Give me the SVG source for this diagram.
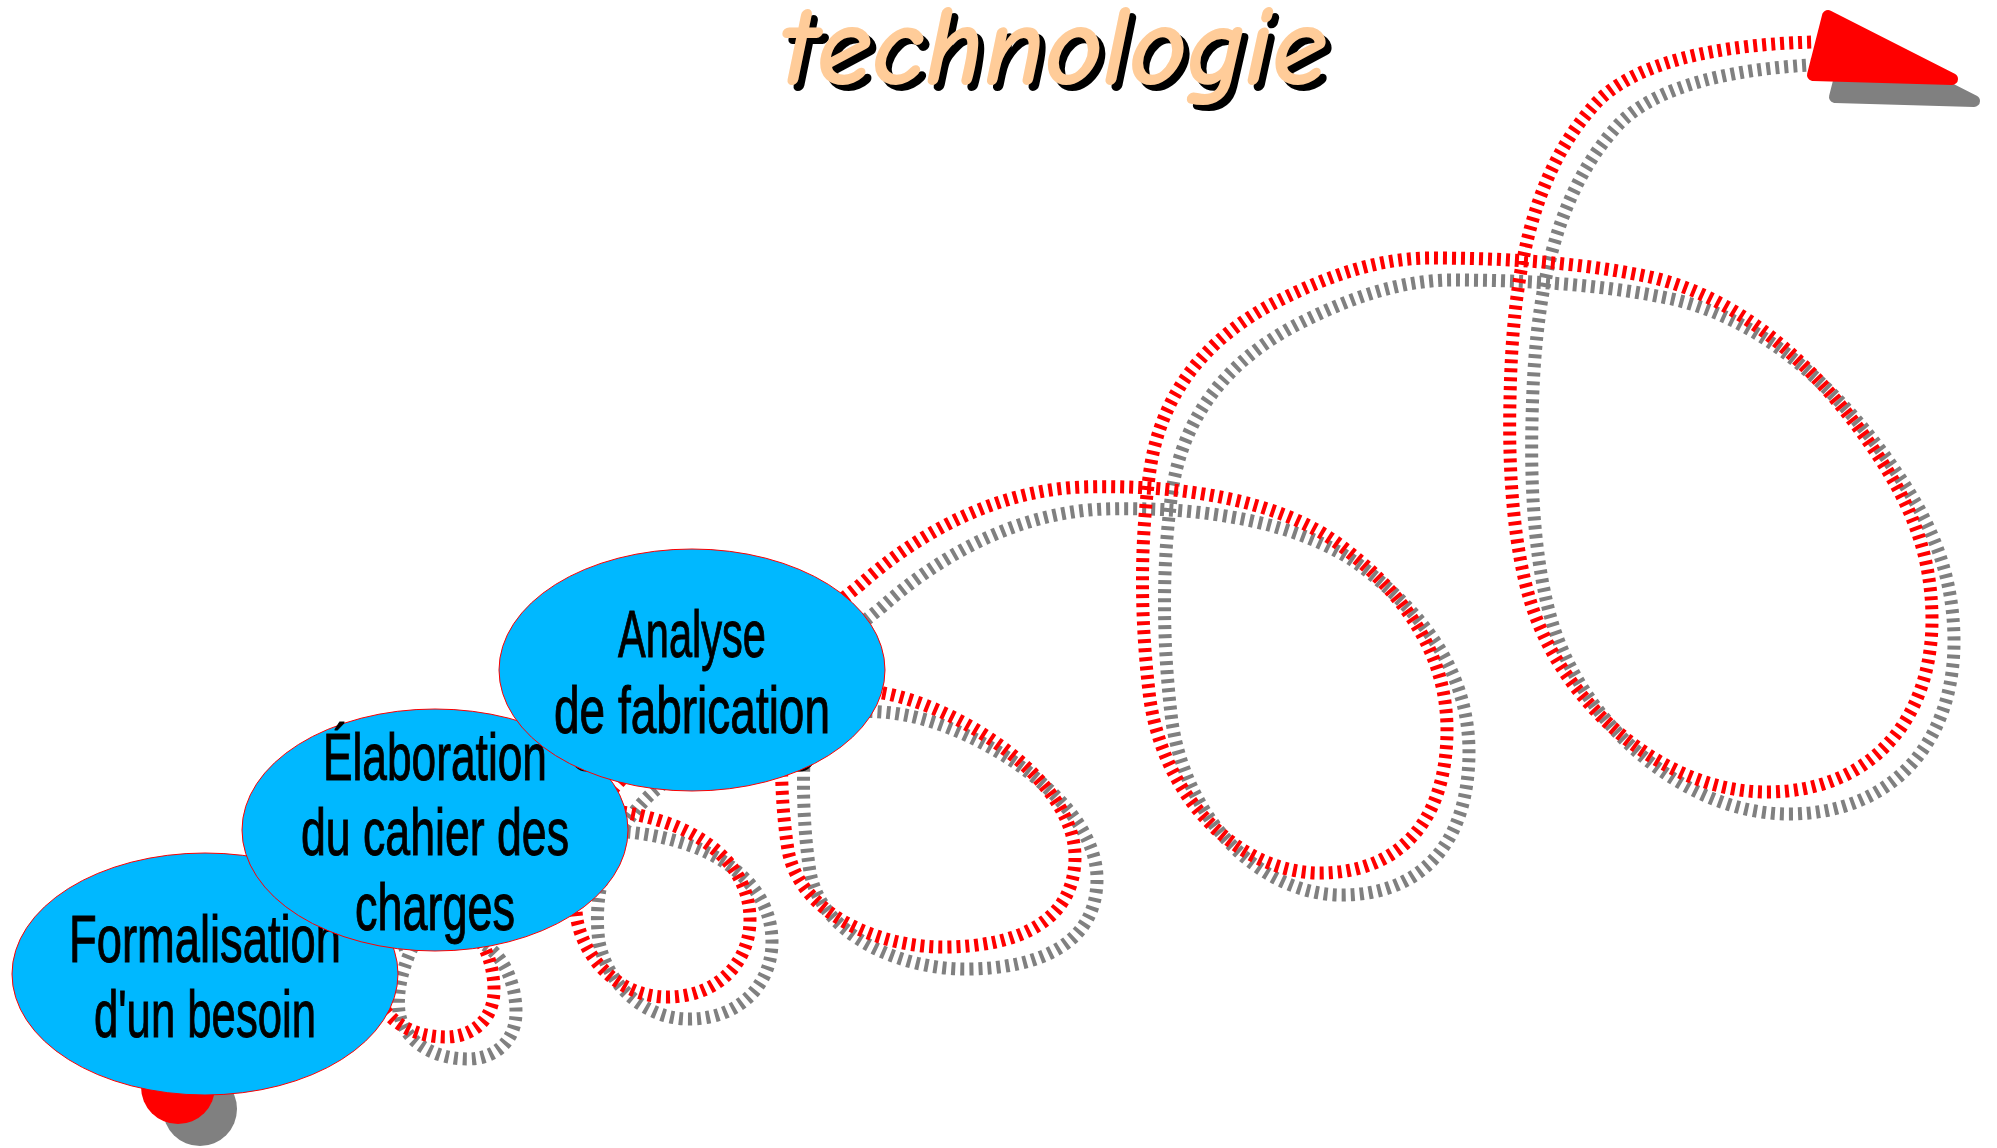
<svg xmlns="http://www.w3.org/2000/svg" xmlns:xlink="http://www.w3.org/1999/xlink" width="1997" height="1148" viewBox="0 0 1997 1148">
<defs>
<style>
.title { font-family: "Comic Sans MS", "Comic Neue", "DejaVu Sans", sans-serif; font-style: italic; font-weight: bold; font-size: 116px; }
.lbl { font-family: "Agency FB", "Liberation Sans", Arial, sans-serif; font-size: 66px; fill: #000000; stroke: #000000; stroke-width: 1; text-anchor: middle; }
.node { fill: #00B8FF; stroke: #FF0000; stroke-width: 1; }
.trail { fill: none; stroke-width: 13; stroke-dasharray: 4 5; }
.red { stroke: #FF0000; }
.gray { stroke: #808080; }
</style>
<path id="trailPath" d="M 178,1087 C 250,990 330,915 435,915 C 475,915 494,955 494,990 C 494,1020 472,1037 446,1037 C 412,1037 382,1020 377,990 C 372,950 400,885 460,848 C 520,810 590,797 667,823 C 710,838 750,870 750,920 C 750,960 720,997 667,997 C 620,997 585,960 577,920 C 570,870 585,800 650,755 C 715,712 803,678 883,693 C 960,707 1075,780 1075,857 C 1075,920 1020,947 943,947 C 880,947 800,915 788,850 C 780,800 775,700 800,650 C 815,620 835,605 860,585 C 910,540 990,490 1083,487 C 1180,484 1280,500 1340,545 C 1400,590 1447,650 1447,730 C 1447,820 1400,873 1320,873 C 1240,873 1165,800 1150,700 C 1140,620 1140,540 1150,470 C 1160,400 1200,340 1280,300 C 1330,275 1380,258 1430,258 C 1500,258 1580,262 1650,277 C 1730,295 1800,350 1860,430 C 1900,485 1932,540 1932,620 C 1932,720 1870,792 1767,792 C 1660,792 1560,700 1530,600 C 1515,550 1508,480 1510,400 C 1512,280 1530,180 1590,110 C 1620,72 1690,45 1815,42"/>
</defs>

<g id="title">
<text class="title" x="785" y="90" fill="#000000" textLength="548" lengthAdjust="spacingAndGlyphs">technologie</text>
<text class="title" x="779" y="84" fill="#FFCC99" textLength="548" lengthAdjust="spacingAndGlyphs">technologie</text>
</g>

<g id="connectors">
<g id="shadow" transform="translate(22,22)">
<circle cx="178" cy="1087" r="37" fill="#808080"/>
<use xlink:href="#trailPath" class="trail gray"/>
<polygon points="1828,16 1813,75 1952,79" fill="#808080" stroke="#808080" stroke-width="12" stroke-linejoin="round"/>
</g>
<g id="trail">
<circle cx="178" cy="1087" r="37" fill="#FF0000"/>
<use xlink:href="#trailPath" class="trail red"/>
<polygon points="1828,16 1813,75 1952,79" fill="#FF0000" stroke="#FF0000" stroke-width="12" stroke-linejoin="round"/>
</g>
</g>

<g id="node-formalisation">
<ellipse class="node" cx="205" cy="974" rx="193" ry="121"/>
<text class="lbl" x="205" y="962" textLength="272" lengthAdjust="spacingAndGlyphs">Formalisation</text>
<text class="lbl" x="205" y="1037" textLength="222" lengthAdjust="spacingAndGlyphs">d'un besoin</text>
</g>

<g id="node-elaboration">
<ellipse class="node" cx="435" cy="830" rx="193" ry="121"/>
<text class="lbl" x="435" y="780" textLength="224" lengthAdjust="spacingAndGlyphs">Élaboration</text>
<text class="lbl" x="435" y="855" textLength="268" lengthAdjust="spacingAndGlyphs">du cahier des</text>
<text class="lbl" x="435" y="930" textLength="160" lengthAdjust="spacingAndGlyphs">charges</text>
<rect x="574" y="742" width="238" height="27" rx="12" fill="none" stroke="#000000" stroke-width="5"/>
</g>

<g id="node-analyse">
<ellipse class="node" cx="692" cy="670" rx="193" ry="121"/>
<text class="lbl" x="692" y="657" textLength="148" lengthAdjust="spacingAndGlyphs">Analyse</text>
<text class="lbl" x="692" y="733" textLength="276" lengthAdjust="spacingAndGlyphs">de fabrication</text>
</g>
</svg>
